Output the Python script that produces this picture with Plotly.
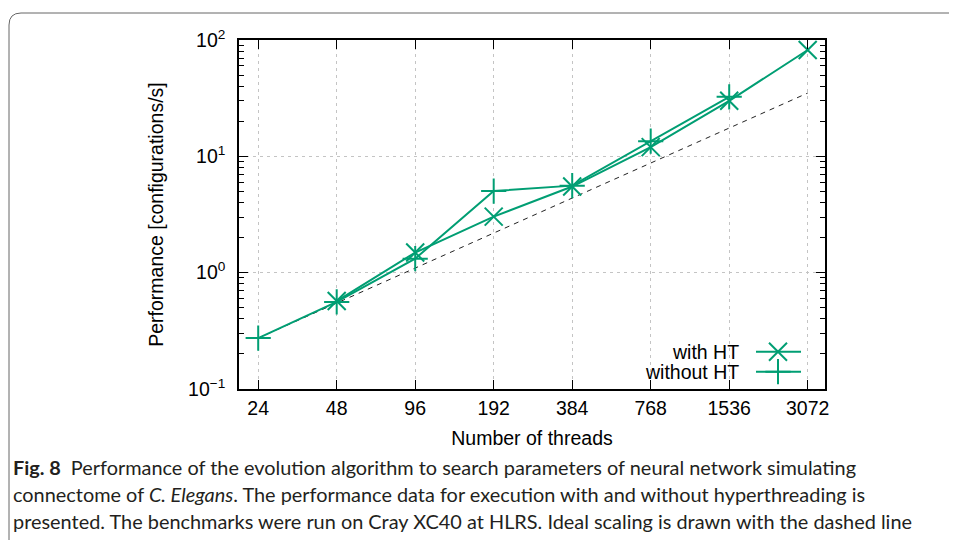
import plotly.graph_objects as go

# ---------------- data ----------------
threads = [24, 48, 96, 192, 384, 768, 1536, 3072]
thread_labels = ["24", "48", "96", "192", "384", "768", "1536", "3072"]
with_ht = [None, 0.57, 1.49, 3.03, 5.5, 12.0, 30.0, 82.0]
without_ht = [0.274, 0.56, 1.32, 5.03, 5.6, 13.5, 32.5, None]
ideal_threads = [24, 3072]
ideal_perf = [0.274, 35.0]
y_tickvals = [0.1, 1, 10, 100]
y_ticktext = ["10<sup>\u22121</sup>", "10<sup>0</sup>", "10<sup>1</sup>", "10<sup>2</sup>"]
y_minor = [m * 10 ** k for k in (-1, 0, 1) for m in range(2, 10)]
legend_names = ["with HT", "without HT"]
caption_lines = [
    "<b>Fig. 8</b>\u2002Performance of the evolution algorithm to search parameters of neural network simulating",
    "connectome of <i>C. Elegans</i>. The performance data for execution with and without hyperthreading is",
    "presented. The benchmarks were run on Cray XC40 at HLRS. Ideal scaling is drawn with the dashed line",
]

# ---------------- layout geometry (px, page coordinates) ----------------
OFF = 8  # default page body margin
W, H = 957, 540
L, R, T, B = 239 - OFF, 825 - OFF, 40 - OFF, 389 - OFF
PW, PH = R - L, B - T
GREEN = "#009e73"
FONT = "Liberation Sans, Arial, sans-serif"
FS = 19.5


def px_x(px):
    return (px - OFF - L) / PW


def px_y(py):
    return (B - (py - OFF)) / PH


fig = go.Figure()

# ideal scaling
fig.add_trace(go.Scatter(
    x=ideal_threads, y=ideal_perf, mode="lines",
    line=dict(color="#222222", width=1, dash="5px,5px"),
    showlegend=False, hoverinfo="skip"))

# series
fig.add_trace(go.Scatter(
    x=threads, y=with_ht, mode="lines+markers", name=legend_names[0],
    line=dict(color=GREEN, width=2),
    marker=dict(symbol="x-thin", size=18, line=dict(color=GREEN, width=2)),
    showlegend=False, connectgaps=False))
fig.add_trace(go.Scatter(
    x=threads, y=without_ht, mode="lines+markers", name=legend_names[1],
    line=dict(color=GREEN, width=2),
    marker=dict(symbol="cross-thin", size=18, line=dict(color=GREEN, width=2)),
    showlegend=False, connectgaps=False))

# custom gnuplot-style legend (text left of sample) on an overlay axis
leg_rows = [351.7, 371.7]
leg_x0, leg_x1, leg_xm = px_x(756), px_x(801), px_x(778)
symbols = ["x-thin", "cross-thin"]
for name, sym, row in zip(legend_names, symbols, leg_rows):
    yy = px_y(row)
    fig.add_trace(go.Scatter(
        x=[leg_x0, leg_x1], y=[yy, yy], mode="lines",
        line=dict(color=GREEN, width=2), xaxis="x2", yaxis="y2",
        showlegend=False, hoverinfo="skip"))
    fig.add_trace(go.Scatter(
        x=[leg_xm], y=[yy], mode="markers",
        marker=dict(symbol=sym, size=18, line=dict(color=GREEN, width=2)),
        xaxis="x2", yaxis="y2", showlegend=False, hoverinfo="skip"))
    fig.add_annotation(
        x=px_x(741), y=yy, xref="paper", yref="paper", text=name,
        showarrow=False, xanchor="right", yanchor="middle",
        font=dict(family=FONT, size=FS, color="black"))

# caption
for i, line in enumerate(caption_lines):
    fig.add_annotation(
        x=px_x(11), y=px_y(467 + 27 * i), xref="paper", yref="paper",
        text=line, showarrow=False, xanchor="left", yanchor="middle",
        font=dict(family="Lato, sans-serif", size=19.9, color="#231f20"))

# rounded page border
bx0, by0, r = px_x(9), px_y(13), 12
path = (f"M {bx0},{px_y(600)} L {bx0},{px_y(13 + r)} "
        f"Q {bx0},{by0} {px_x(9 + r)},{by0} L {px_x(1000)},{by0}")
fig.add_shape(type="path", path=path, xref="paper", yref="paper",
              line=dict(color="#666666", width=1))

x_lo = 1.30658
x_hi = 3.55376
grid = dict(gridcolor="#c4c4c4", gridwidth=1, griddash="3px,4px")

fig.update_layout(
    width=W, height=H,
    margin=dict(l=L, r=W - R, t=T, b=H - B, pad=0),
    paper_bgcolor="white", plot_bgcolor="white",
    font=dict(family=FONT, size=FS, color="black"),
    xaxis=dict(
        type="log", range=[x_lo, x_hi], tickmode="array",
        tickvals=threads, ticktext=thread_labels,
        ticks="inside", ticklen=9, tickwidth=1, tickcolor="black",
        showline=True, linecolor="black", linewidth=1.5, mirror="ticks",
        showgrid=True, zeroline=False, ticklabelstandoff=1,
        title=dict(text="Number of threads", standoff=13,
                   font=dict(family=FONT, size=FS)),
        **grid),
    yaxis=dict(
        type="log", range=[-1, 2], tickmode="array",
        tickvals=y_tickvals, ticktext=y_ticktext,
        ticks="inside", ticklen=9, tickwidth=1, tickcolor="black",
        showline=True, linecolor="black", linewidth=1.5, mirror="ticks",
        showgrid=True, zeroline=False, ticklabelstandoff=8,
        minor=dict(tickmode="array", tickvals=y_minor, ticks="inside",
                   ticklen=5, tickwidth=1, tickcolor="black", showgrid=False),
        title=dict(text="Performance [configurations/s]", standoff=19,
                   font=dict(family=FONT, size=FS)),
        **grid),
    xaxis2=dict(overlaying="x", anchor="y2", range=[0, 1], visible=False,
                fixedrange=True),
    yaxis2=dict(overlaying="y", anchor="x2", range=[0, 1], visible=False,
                fixedrange=True),
    showlegend=False,
)

fig.write_html("out.html")
